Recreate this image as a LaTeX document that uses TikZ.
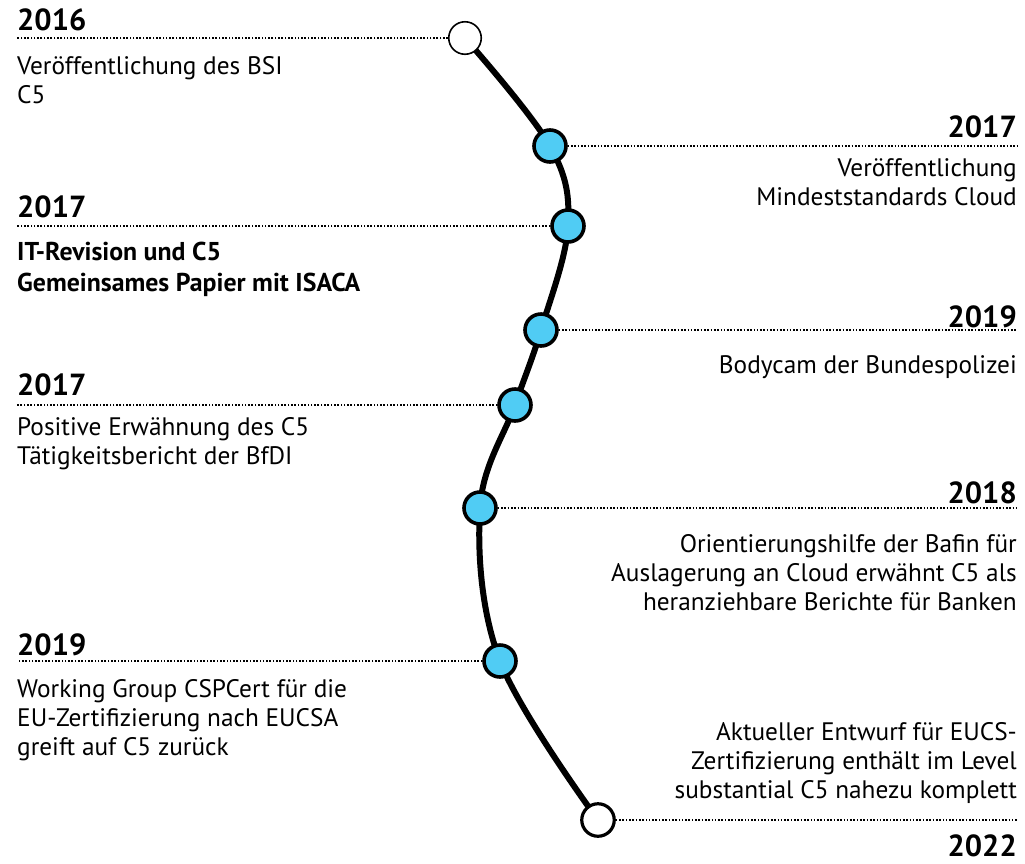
\documentclass[tikz,border=0pt]{standalone}
\usepackage{fontspec}
\setmainfont{PT Sans}
\definecolor{dotblue}{RGB}{80,204,244}
\begin{document}
\begin{tikzpicture}[x=1pt,y=-1pt,
  yearl/.style={anchor=base west,inner sep=0pt,font=\fontsize{30.5}{30}\selectfont\bfseries},
  yearr/.style={anchor=base east,inner sep=0pt,font=\fontsize{30.5}{30}\selectfont\bfseries},
  bodyl/.style={anchor=base west,inner sep=0pt,align=left,font=\fontsize{25.3}{29}\selectfont},
  bodyr/.style={anchor=base east,inner sep=0pt,align=right,font=\fontsize{25.3}{29}\selectfont},
  guide/.style={line width=1.6pt,dash pattern=on 1.6pt off 1.7pt},
  endpt/.style={circle,draw=black,line width=1.6pt,fill=white,minimum size=32.5pt,inner sep=0pt},
  midpt/.style={circle,draw=black,line width=3.6pt,fill=dotblue,minimum size=32pt,inner sep=0pt}]
\useasboundingbox (0,0) rectangle (1025,863);
% curve
\draw[line width=6pt] plot[smooth,tension=0.6] coordinates {(465,38) (550,146) (568,226) (541,330) (515,405) (480,508) (500,661) (598,820)};
% guide line end x positions
\coordinate (lx) at (17,0);
\coordinate (rx) at (1017,0);
% points
\node[endpt] (p0) at (465,38) {};
\node[midpt] (p1) at (550,146) {};
\node[midpt] (p2) at (568,226) {};
\node[midpt] (p3) at (541,330) {};
\node[midpt] (p4) at (515,405) {};
\node[midpt] (p5) at (480,508) {};
\node[midpt] (p6) at (500,661) {};
\node[endpt,line width=3.2pt] (p7) at (598,820) {};
% guides
\draw[guide] (p0) -- (p0 -| lx);
\draw[guide] (p1) -- (p1 -| rx);
\draw[guide] (p2) -- (p2 -| lx);
\draw[guide] (p3) -- (p3 -| rx);
\draw[guide] (p4) -- (p4 -| lx);
\draw[guide] (p5) -- (p5 -| rx);
\draw[guide] (p6) -- (p6 -| lx);
\draw[guide] (p7) -- (p7 -| rx);
% texts
\node[yearl] (y0) at (17,30) {2016};
\node[bodyl] (t0) at (17,103) {Veröffentlichung des BSI\\C5};
\node[yearr] (y1) at (1017,137) {2017};
\node[bodyr] (t1) at (1017,205) {Veröffentlichung\\Mindeststandards Cloud};
\node[yearl] (y2) at (17,217) {2017};
\node[bodyl,font=\fontsize{25.8}{31}\selectfont\bfseries] (t2) at (17,291) {IT-Revision und C5\\Gemeinsames Papier mit ISACA};
\node[yearr] (y3) at (1017,327) {2019};
\node[bodyr] (t3) at (1017,373) {Bodycam der Bundespolizei};
\node[yearl] (y4) at (17,395) {2017};
\node[bodyl] (t4) at (17,464) {Positive Erwähnung des C5\\Tätigkeitsbericht der BfDI};
\node[yearr] (y5) at (1017,503) {2018};
\node[bodyr] (t5) at (1017,610) {Orientierungshilfe der Bafin für\\Auslagerung an Cloud erwähnt C5 als\\heranziehbare Berichte für Banken};
\node[yearl] (y6) at (17,655) {2019};
\node[bodyl] (t6) at (17,755) {Working Group CSPCert für die\\EU-Zertifizierung nach EUCSA\\greift auf C5 zurück};
\node[bodyr] (t7) at (1017,798) {Aktueller Entwurf für EUCS-\\Zertifizierung enthält im Level\\substantial C5 nahezu komplett};
\node[yearr] (y7) at (1017,856) {2022};
\end{tikzpicture}
\end{document}
